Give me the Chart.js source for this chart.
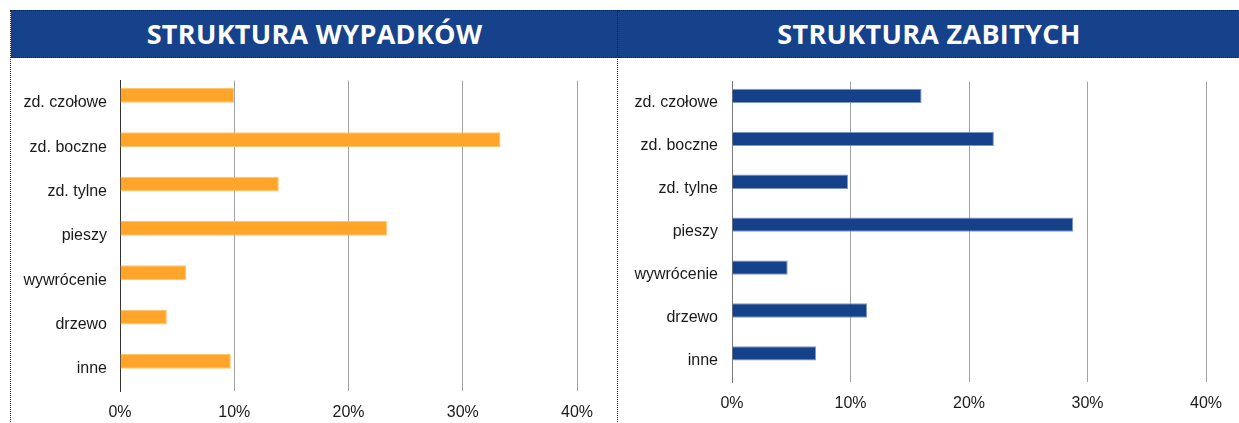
<!DOCTYPE html>
<html>
<head>
<meta charset="utf-8">
<script src="https://cdn.jsdelivr.net/npm/chart.js@4.4.0/dist/chart.umd.min.js"></script>
<style>
  body { margin: 0; background: #fff; width: 1239px; height: 423px; overflow: hidden; position: relative; }
  .panel { position: absolute; top: 10px; height: 420px; border-left: 1px dotted #222; }
  #left { left: 10px; width: 607px; }
  #right { left: 617px; width: 622px; }
  .header {
    position: absolute; left: 0; right: 0; top: 0; height: 46px;
    background: #16418b; border-top: 1px dotted #222; border-bottom: 1px dotted #222;
    color: #fff; font: 700 27px 'Open Sans', sans-serif; letter-spacing: 0.3px;
    text-align: center; line-height: 46px;
  }
  .chart-box { position: absolute; left: 0; right: 0; top: 48px; height: 365px; }
</style>
</head>
<body>
<div class="panel" id="left">
  <div class="header">STRUKTURA WYPADKÓW</div>
  <div class="chart-box"><canvas id="accidentsChart"></canvas></div>
</div>
<div class="panel" id="right">
  <div class="header">STRUKTURA ZABITYCH</div>
  <div class="chart-box"><canvas id="killedChart"></canvas></div>
</div>

<script>
const categories = ['zd. czołowe', 'zd. boczne', 'zd. tylne', 'pieszy', 'wywrócenie', 'drzewo', 'inne'];
const accidentShares = [10.0, 33.3, 13.9, 23.4, 5.8, 4.1, 9.7];   // % wypadków
const killedShares = [16.0, 22.1, 9.8, 28.8, 4.7, 11.4, 7.1];     // % zabitych
const xTicks = [0, 10, 20, 30, 40];

function makeChart(canvasId, values, color, edge, cfg) {
    const ctx = document.getElementById(canvasId).getContext('2d');
    return new Chart(ctx, {
        type: 'bar',
        data: {
            labels: categories,
            datasets: [{
                data: values,
                backgroundColor: color,
                borderColor: edge,
                borderWidth: 1,
                borderSkipped: 'start'
            }, {
                // empty second series, so each bar sits in the upper half of its band
                data: [],
                backgroundColor: 'transparent'
            }]
        },
        options: {
            indexAxis: 'y',
            responsive: true,
            maintainAspectRatio: false,
            animation: false,
            categoryPercentage: 0.667,
            barPercentage: 1.0,
            layout: { padding: { top: cfg.top, right: cfg.right, left: 0, bottom: 0 } },
            plugins: { legend: { display: false }, tooltip: { enabled: false } },
            scales: {
                x: {
                    min: xTicks[0],
                    max: xTicks[xTicks.length - 1],
                    afterBuildTicks: scale => { scale.ticks = xTicks.map(v => ({ value: v })); },
                    afterFit: scale => { scale.height = cfg.xHeight; },
                    border: { display: false },
                    grid: {
                        drawTicks: false,
                        color: c => c.tick && c.tick.value === 0 ? 'transparent' : '#a3a3a3',
                        lineWidth: 1
                    },
                    ticks: {
                        padding: 12,
                        color: '#1a1a1a',
                        font: { family: 'Liberation Sans', size: 16 },
                        callback: v => v + '%'
                    }
                },
                y: {
                    afterFit: scale => { scale.width = cfg.yWidth; },
                    grid: { display: false, drawTicks: false },
                    border: { display: true, color: cfg.axisColor, width: 1 },
                    ticks: {
                        padding: cfg.labelPad,
                        color: '#1a1a1a',
                        font: { family: 'Liberation Sans', size: 16 }
                    }
                }
            }
        }
    });
}

makeChart('accidentsChart', accidentShares, '#ffa52a', '#ffc46e',
    { top: 18, right: 41, xHeight: 32, yWidth: 109, labelPad: 13, axisColor: '#333' });
makeChart('killedChart', killedShares, '#15418b', '#7f98c4',
    { top: 12, right: 34, xHeight: 41, yWidth: 114, labelPad: 14, axisColor: '#7a7a7a' });
</script>
</body>
</html>
